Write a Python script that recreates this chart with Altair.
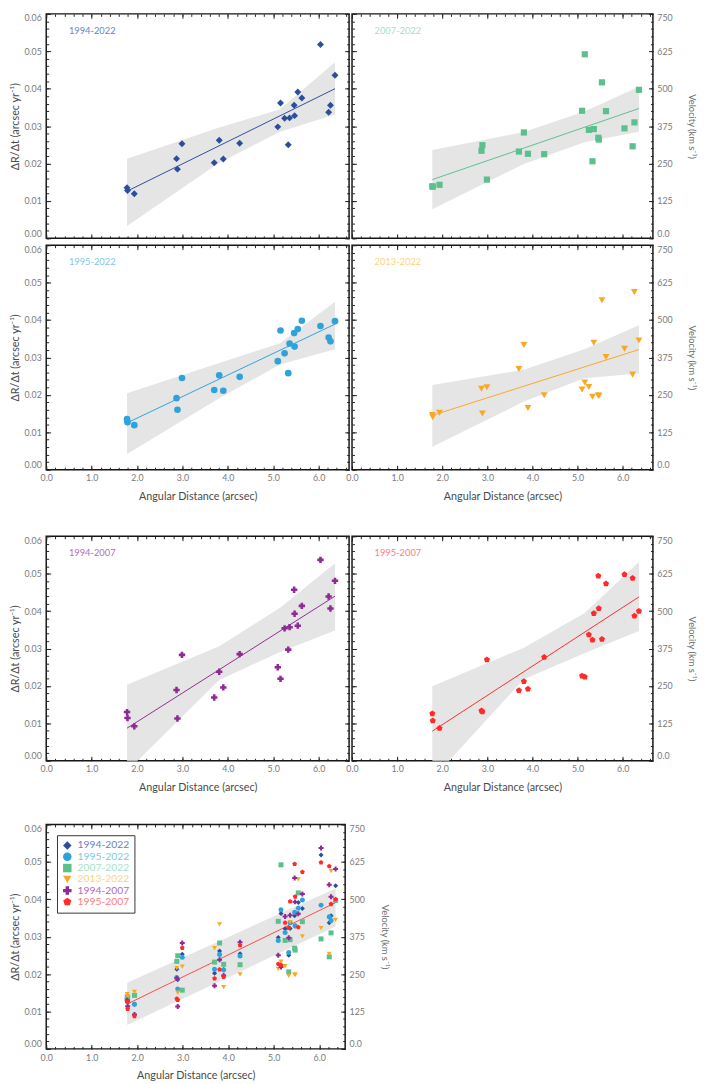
import altair as alt
import pandas as pd

# ---------------- data ----------------
X = [1.78, 1.79, 1.94, 2.87, 2.89, 2.99, 3.70, 3.81, 3.90, 4.26,
     5.10, 5.16, 5.25, 5.33, 5.36, 5.46, 5.47, 5.54, 5.63, 6.04,
     6.22, 6.26, 6.36]

SERIES = ["1994-2022", "1995-2022", "2007-2022", "2013-2022", "1994-2007", "1995-2007"]

V_1994_2022 = [0.0135, 0.0128, 0.0119, 0.0213, 0.0185, 0.0253, 0.0202, 0.0262, 0.0212, 0.0254,
               0.0298, 0.0362, 0.0321, 0.0250, 0.0322, 0.0356, 0.0328, 0.0391, 0.0375, 0.0518,
               0.0337, 0.0356, 0.0436]
V_1995_2022 = [0.0135, 0.0127, 0.0119, 0.0191, 0.0160, 0.0245, 0.0213, 0.0252, 0.0211, 0.0248,
               0.0290, 0.0372, 0.0311, 0.0258, 0.0337, 0.0365, 0.0329, 0.0376, 0.0398, 0.0384,
               0.0353, 0.0343, 0.0397]
V_2007_2022 = [0.0139, 0.0138, 0.0143, 0.0234, 0.0249, 0.0157, 0.0232, 0.0283, 0.0226, 0.0225,
               0.0341, 0.0492, 0.0290, 0.0206, 0.0292, 0.0269, 0.0264, 0.0417, 0.0340, 0.0294,
               0.0246, 0.0310, 0.0397]
V_2013_2022 = [0.0146, 0.0140, 0.0152, 0.0216, 0.0150, 0.0220, 0.0269, 0.0333, 0.0165, 0.0199,
               0.0214, 0.0233, 0.0221, 0.0195, 0.0339, 0.0199, 0.0197, 0.0453, 0.0301, 0.0323,
               0.0254, 0.0475, 0.0345]
V_1994_2007 = [0.0130, 0.0114, 0.0092, 0.0189, 0.0113, 0.0283, 0.0169, 0.0238, 0.0196, 0.0285,
               0.0250, 0.0219, 0.0354, 0.0297, 0.0357, 0.0457, 0.0393, 0.0361, 0.0414, 0.0537,
               0.0439, 0.0407, 0.0481]
V_1995_2007 = [0.0126, 0.0107, 0.0087, 0.0134, 0.0131, 0.0270, 0.0188, 0.0212, 0.0192, 0.0277,
               0.0227, 0.0224, 0.0337, 0.0323, 0.0394, 0.0494, 0.0407, 0.0325, 0.0473, 0.0498,
               0.0488, 0.0387, 0.0400]

# fitted lines (value at the first and last x)
FIT_X = [1.78, 6.36]
F_1994_2022 = [0.0126, 0.0400]
F_1995_2022 = [0.0125, 0.0389]
F_2007_2022 = [0.0157, 0.0347]
F_2013_2022 = [0.0145, 0.0321]
F_1994_2007 = [0.0087, 0.0440]
F_1995_2007 = [0.0079, 0.0438]
F_ALL = [0.0120, 0.0391]

# shaded uncertainty bands
BAND_X = [1.78, 3.81, 5.15, 6.36]
HI_1994_2022 = [0.0213, 0.0296, 0.0345, 0.0471]
LO_1994_2022 = [0.0033, 0.0202, 0.0285, 0.0331]
HI_1995_2022 = [0.0204, 0.0285, 0.0338, 0.0449]
LO_1995_2022 = [0.0042, 0.0191, 0.0281, 0.0322]
HI_2007_2022 = [0.0236, 0.0284, 0.0339, 0.0405]
LO_2007_2022 = [0.0078, 0.0199, 0.0257, 0.0285]
HI_2013_2022 = [0.0226, 0.0267, 0.0322, 0.0386]
LO_2013_2022 = [0.0061, 0.0182, 0.0244, 0.0257]
HI_1994_2007 = [0.0203, 0.0306, 0.0409, 0.0528]
LO_1994_2007 = [-0.0028, 0.0216, 0.0291, 0.0348]
HI_1995_2007 = [0.0199, 0.0302, 0.0394, 0.0531]
LO_1995_2007 = [-0.0049, 0.0218, 0.0287, 0.0347]
ALL_BAND_X = [1.78, 6.36]
HI_ALL = [0.0177, 0.0429]
LO_ALL = [0.0064, 0.0327]

Y_TICKS = [0.00, 0.01, 0.02, 0.03, 0.04, 0.05, 0.06]
Y_MINOR = [round(i * 0.002, 4) for i in range(31)]
X_TICKS = [0, 1, 2, 3, 4, 5, 6]
X_MINOR = [round(i * 0.2, 2) for i in range(34)]
LABEL_AT = (0.5, 0.0555)

# ---------------- styles ----------------
FONT = "Lato"
LABEL_C = "#7a7a7a"
TITLE_C = "#4a4a4a"
TICK_C = "#222222"
MARK_COLORS = ["#2c4d9c", "#2ea3d9", "#5cc08d", "#f9a825", "#8f2a93", "#ff2b2b"]
TEXT_COLORS = ["#6b82c4", "#7cc7ea", "#a8dfc3", "#fcd37f", "#b46bb8", "#ff7b7b"]
PENT = "M0,-1L0.951,-0.309L0.588,0.809L-0.588,0.809L-0.951,-0.309Z"
SHAPES = ["diamond", "circle", "square", "triangle-down", "cross", PENT]
SIZES = [50, 46, 40, 50, 42, 42]

VALUES = [V_1994_2022, V_1995_2022, V_2007_2022, V_2013_2022, V_1994_2007, V_1995_2007]
FITS = [F_1994_2022, F_1995_2022, F_2007_2022, F_2013_2022, F_1994_2007, F_1995_2007]
HIS = [HI_1994_2022, HI_1995_2022, HI_2007_2022, HI_2013_2022, HI_1994_2007, HI_1995_2007]
LOS = [LO_1994_2022, LO_1995_2022, LO_2007_2022, LO_2013_2022, LO_1994_2007, LO_1995_2007]

XTITLE = "Angular Distance (arcsec)"
YTITLE = "ΔR/Δt (arcsec yr⁻¹)"
VTITLE = "Velocity (km s⁻¹)"
VEL_EXPR = "datum.value == 0 ? '0.0' : format(datum.value * 12500, 'd')"


def mk_axis(orient, values, tick, labels=False, title=None, fmt=None, expr=None,
            gap=5, pad_title=6, title_size=11, title_color=TITLE_C):
    kw = dict(orient=orient, values=values, tickSize={"expr": str(-tick)}, ticks=True,
              tickColor=TICK_C, tickWidth=1, domain=False, grid=False, labels=labels,
              minExtent=0)
    if labels:
        kw.update(labelFont=FONT, labelFontSize=9, labelColor=LABEL_C,
                  labelPadding=tick + gap, labelFlush=orient in ("left", "right"))
        if fmt:
            kw["format"] = fmt
        if expr:
            kw["labelExpr"] = expr
    if title:
        kw.update(title=title, titleFont=FONT, titleFontSize=title_size,
                  titleColor=title_color, titleFontWeight="normal", titlePadding=pad_title)
    else:
        kw["title"] = None
    return alt.Axis(**kw)


def layers(band_df, line_df, pts_layer_fn, xmax, left_lab, right_lab, x_lab, line_color):
    xs = alt.Scale(domain=[0, xmax], nice=False, zero=False)
    ys = alt.Scale(domain=[0, 0.06], nice=False, zero=False)
    xminor = [v for v in X_MINOR if v <= xmax + 1e-9]
    ax_xb = mk_axis("bottom", X_TICKS, 4.5, labels=x_lab, title=XTITLE if x_lab else None,
                    fmt=".1f", gap=4.5, pad_title=8)
    ax_xbm = mk_axis("bottom", xminor, 2.5)
    ax_xt = mk_axis("top", X_TICKS, 4.5)
    ax_xtm = mk_axis("top", xminor, 2.5)
    ax_yl = mk_axis("left", Y_TICKS, 4.5, labels=left_lab, title=YTITLE if left_lab else None,
                    fmt=".2f", gap=5, pad_title=4)
    ax_ylm = mk_axis("left", Y_MINOR, 2.5)
    ax_yr = mk_axis("right", Y_TICKS, 4.5, labels=right_lab, title=VTITLE if right_lab else None,
                    expr=VEL_EXPR, gap=4, pad_title=15, title_size=9.5, title_color="#6a6a6a")
    ax_yrm = mk_axis("right", Y_MINOR, 2.5)

    band = alt.Chart(band_df).mark_area(color="#e5e5e5", clip=True).encode(
        x=alt.X("x:Q", scale=xs, axis=ax_xb),
        y=alt.Y("lo:Q", scale=ys, axis=ax_yl),
        y2="hi:Q",
    )
    line = alt.Chart(line_df).mark_line(color=line_color, strokeWidth=1, clip=True).encode(
        x=alt.X("x:Q", scale=xs, axis=ax_xbm),
        y=alt.Y("y:Q", scale=ys, axis=ax_ylm),
    )
    pts, ghost_df = pts_layer_fn(xs, ys, ax_xt, ax_yr)
    ghost = alt.Chart(ghost_df).mark_point(opacity=0).encode(
        x=alt.X("x:Q", scale=xs, axis=ax_xtm),
        y=alt.Y("y:Q", scale=ys, axis=ax_yrm),
    )
    return [band, line, pts, ghost], xs, ys


def panel(idx, side, x_lab, width, xmax):
    name = SERIES[idx]
    pts_df = pd.DataFrame({"x": X, "y": VALUES[idx]})
    line_df = pd.DataFrame({"x": FIT_X, "y": FITS[idx]})
    band_df = pd.DataFrame({"x": BAND_X, "lo": LOS[idx], "hi": HIS[idx]})

    def pts_fn(xs, ys, ax_x, ax_y):
        ch = alt.Chart(pts_df).mark_point(filled=True, shape=SHAPES[idx], size=SIZES[idx],
                                          color=MARK_COLORS[idx], opacity=1).encode(
            x=alt.X("x:Q", scale=xs, axis=ax_x),
            y=alt.Y("y:Q", scale=ys, axis=ax_y),
        )
        return ch, pts_df

    lyr, xs, ys = layers(band_df, line_df, pts_fn, xmax, side == "left", side == "right",
                         x_lab, MARK_COLORS[idx])
    lab_df = pd.DataFrame({"lx": [LABEL_AT[0]], "ly": [LABEL_AT[1]], "t": [name]})
    txt = alt.Chart(lab_df).mark_text(align="left", baseline="middle", font=FONT, fontSize=9.5,
                                      color=TEXT_COLORS[idx]).encode(
        x=alt.X("lx:Q", scale=xs, axis=None),
        y=alt.Y("ly:Q", scale=ys, axis=None),
        text="t:N",
    )
    return alt.layer(*lyr, txt).resolve_axis(x="independent", y="independent").properties(
        width=width, height=229)


def combined(width, xmax):
    rows = []
    for s, vals in zip(SERIES, VALUES):
        for xv, yv in zip(X, vals):
            rows.append({"x": xv, "y": yv, "series": s})
    all_df = pd.DataFrame(rows)
    line_df = pd.DataFrame({"x": FIT_X, "y": F_ALL})
    band_df = pd.DataFrame({"x": ALL_BAND_X, "lo": LO_ALL, "hi": HI_ALL})
    lab_expr = " : ".join(
        f"datum.label == '{s}' ? '{c}'" for s, c in zip(SERIES, TEXT_COLORS)) + " : '#777'"
    leg = alt.Legend(title=None, orient="top-left", offset=11, padding=5, strokeColor="#333333",
                     fillColor="white", symbolSize=75, labelFont=FONT, labelFontSize=10.5,
                     labelColor={"expr": lab_expr}, rowPadding=0.5, labelOffset=5,
                     cornerRadius=0)

    def pts_fn(xs, ys, ax_x, ax_y):
        ch = alt.Chart(all_df).mark_point(filled=True, size=26, opacity=1).encode(
            x=alt.X("x:Q", scale=xs, axis=ax_x),
            y=alt.Y("y:Q", scale=ys, axis=ax_y),
            color=alt.Color("series:N", scale=alt.Scale(domain=SERIES, range=MARK_COLORS),
                            legend=leg),
            shape=alt.Shape("series:N", scale=alt.Scale(domain=SERIES, range=SHAPES),
                            legend=leg),
        )
        return ch, all_df

    lyr, xs, ys = layers(band_df, line_df, pts_fn, xmax, True, True, True, "#ff4a4a")
    return alt.layer(*lyr).resolve_axis(x="independent", y="independent").properties(
        width=width, height=229)


XMAX = 6.67
p1 = panel(0, "left", False, 309, XMAX)
p2 = panel(2, "right", False, 307, XMAX)
p3 = panel(1, "left", True, 309, XMAX)
p4 = panel(3, "right", True, 307, XMAX)
p5 = panel(4, "left", True, 309, XMAX)
p6 = panel(5, "right", True, 307, XMAX)
p7 = combined(305, 6.57)

rowA = alt.hconcat(p1, p2, spacing=3, bounds="flush")
rowB = alt.hconcat(p3, p4, spacing=3, bounds="flush")
rowC = alt.hconcat(p5, p6, spacing=3, bounds="flush")

top = alt.vconcat(rowA, rowB, spacing=3)
bottom = alt.vconcat(rowC, p7, spacing=29).resolve_legend(color="independent", shape="independent")

chart = alt.vconcat(top, bottom, spacing=32).resolve_legend(
    color="independent", shape="independent"
).properties(
    padding={"left": 0, "top": -7, "right": 0, "bottom": 0}, background="white"
).configure_view(stroke="#151515", strokeWidth=1.5)

chart.save("out.html", embed_options={"renderer": "svg", "actions": False})
